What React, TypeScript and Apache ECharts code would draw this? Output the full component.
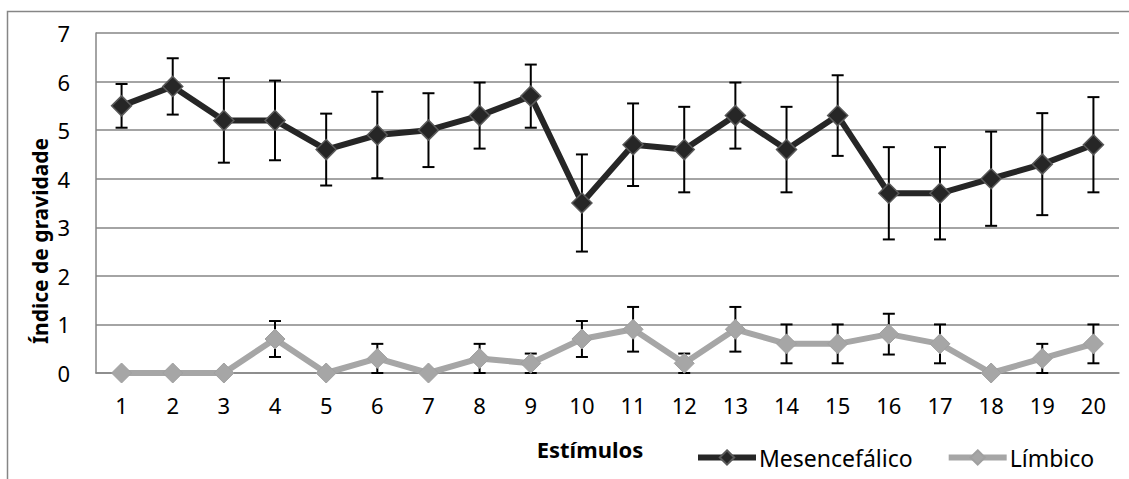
import React, { useEffect, useRef } from "react";
import * as echarts from "echarts";

const categories = ["1","2","3","4","5","6","7","8","9","10","11","12","13","14","15","16","17","18","19","20"];
const mesValues = [5.5,5.9,5.2,5.2,4.6,4.9,5.0,5.3,5.7,3.5,4.7,4.6,5.3,4.6,5.3,3.7,3.7,4.0,4.3,4.7];
const mesErrors = [0.45,0.58,0.87,0.82,0.74,0.89,0.76,0.68,0.65,1.0,0.85,0.88,0.68,0.88,0.83,0.95,0.95,0.97,1.05,0.98];
const limValues = [0,0,0,0.7,0,0.3,0,0.3,0.2,0.7,0.9,0.2,0.9,0.6,0.6,0.8,0.6,0,0.3,0.6];
const limErrors = [0,0,0,0.37,0,0.3,0,0.3,0.2,0.37,0.46,0.2,0.46,0.4,0.4,0.42,0.4,0,0.3,0.4];
const yTicks = [0,1,2,3,4,5,6,7];

const FONT = "Noto Sans";

function errorData(values: number[], errors: number[]) {
  return values
    .map((v, i) => (errors[i] > 0 ? [i, v - errors[i], v + errors[i]] : null))
    .filter((d) => d !== null);
}

function renderError(params: any, api: any) {
  const x = api.value(0);
  const lo = api.coord([x, api.value(1)]);
  const hi = api.coord([x, api.value(2)]);
  const half = 6;
  const style = { stroke: "#000", lineWidth: 2 };
  return {
    type: "group",
    children: [
      { type: "line", shape: { x1: lo[0], y1: lo[1], x2: hi[0], y2: hi[1] }, style },
      { type: "line", shape: { x1: lo[0] - half, y1: lo[1], x2: lo[0] + half, y2: lo[1] }, style },
      { type: "line", shape: { x1: hi[0] - half, y1: hi[1], x2: hi[0] + half, y2: hi[1] }, style },
    ],
  };
}

export default function App() {
  const ref = useRef<HTMLDivElement>(null);
  useEffect(() => {
    if (!ref.current) return;
    const chart = echarts.init(ref.current, null, { renderer: "svg" });
    chart.setOption({
      animation: false,
      backgroundColor: "#fff",
      grid: { left: 96, right: 10, top: 33, bottom: 106 },
      xAxis: {
        type: "category",
        data: categories,
        boundaryGap: true,
        axisLine: { show: true, lineStyle: { color: "#868686", width: 1.5 } },
        axisTick: { show: false },
        axisLabel: { color: "#000", fontFamily: FONT, fontSize: 22, margin: 21 },
      },
      yAxis: {
        type: "value",
        min: yTicks[0],
        max: yTicks[yTicks.length - 1],
        interval: 1,
        axisLine: { show: true, lineStyle: { color: "#868686", width: 1.5 } },
        axisTick: { show: false },
        splitLine: { lineStyle: { color: "#868686", width: 1.5 } },
        axisLabel: { color: "#000", fontFamily: FONT, fontSize: 22, margin: 26 },
      },
      legend: {
        left: 690,
        top: 441,
        itemWidth: 58,
        itemHeight: 18,
        itemGap: 33,
        textStyle: { color: "#000", fontFamily: FONT, fontSize: 23, padding: [0, 0, 0, -2] },
        data: [
          { name: "Mesencefálico", lineStyle: { width: 6, color: "#262626" } },
          { name: "Límbico", lineStyle: { width: 6, color: "#a6a6a6" } },
        ],
      },
      graphic: [
        {
          type: "rect",
          shape: { x: 7.5, y: 11.5, width: 1140, height: 500 },
          style: { fill: "none", stroke: "#868686", lineWidth: 1.5 },
          silent: true,
        },
        {
          type: "text",
          x: 40,
          y: 241,
          rotation: Math.PI / 2,
          style: {
            text: "Índice de gravidade",
            fontFamily: FONT,
            fontSize: 21,
            fontWeight: "bold",
            fill: "#000",
            align: "center",
            verticalAlign: "middle",
          },
        },
        {
          type: "text",
          x: 590,
          y: 449,
          style: {
            text: "Estímulos",
            fontFamily: FONT,
            fontSize: 22,
            fontWeight: "bold",
            fill: "#000",
            align: "center",
            verticalAlign: "middle",
          },
        },
      ],
      series: [
        {
          type: "custom",
          name: "errMes",
          renderItem: renderError,
          data: errorData(mesValues, mesErrors),
          z: 1,
          silent: true,
          clip: false,
        },
        {
          type: "custom",
          name: "errLim",
          renderItem: renderError,
          data: errorData(limValues, limErrors),
          z: 1,
          silent: true,
          clip: false,
        },
        {
          type: "line",
          name: "Mesencefálico",
          data: mesValues,
          symbol: "diamond",
          symbolSize: 20,
          clip: false,
          z: 3,
          lineStyle: { color: "#262626", width: 6 },
          itemStyle: { color: "#262626", borderColor: "#595959", borderWidth: 1.5 },
        },
        {
          type: "line",
          name: "Límbico",
          data: limValues,
          symbol: "diamond",
          symbolSize: 20,
          clip: false,
          z: 2,
          lineStyle: { color: "#a6a6a6", width: 6 },
          itemStyle: { color: "#a6a6a6", borderColor: "#a0a0a0", borderWidth: 1 },
        },
      ],
    });
    return () => chart.dispose();
  }, []);
  return (
    <div
      ref={ref}
      style={{ position: "fixed", left: 0, top: 0, width: 1129, height: 479 }}
    />
  );
}
